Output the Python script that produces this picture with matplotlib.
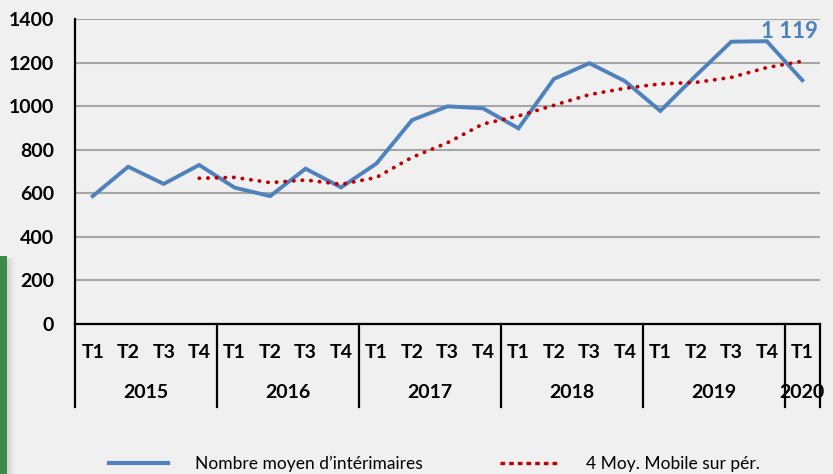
import matplotlib
matplotlib.use("Agg")
import matplotlib.pyplot as plt
from matplotlib.lines import Line2D
from matplotlib.patches import Rectangle

# Quarterly data, 2015 T1 -> 2020 T1
years = ["2015", "2016", "2017", "2018", "2019", "2020"]
quarters_per_year = [4, 4, 4, 4, 4, 1]
quarter_labels = ["T1", "T2", "T3", "T4"] * 5 + ["T1"]

interimaires = [587, 722, 643, 730, 626, 587, 713, 627, 737, 936, 999,
                990, 898, 1125, 1197, 1115, 978, 1140, 1296, 1298, 1119]
# 4-period moving average (starts at 2015 T4)
moy_mobile = [None, None, None, 669, 673, 649, 661, 641, 673, 765, 832,
              918, 955, 1004, 1053, 1082, 1102, 1109, 1132, 1177, 1206]

bg = "#f0f0f0"
blue = "#4f81bd"
red = "#c00000"
plt.rcParams["font.family"] = ["Lato", "DejaVu Sans"]

W, H = 833, 474
fig = plt.figure(figsize=(W / 100, H / 100), dpi=100, facecolor=bg)
ax = fig.add_axes([75 / W, (H - 324) / H, 745 / W, 305 / H], facecolor=bg)

x = list(range(len(interimaires)))
ax.plot(x, interimaires, color=blue, lw=2.8, solid_joinstyle="miter",
        label="Nombre moyen d\u2019intérimaires", zorder=3)
ma_x = [i for i, v in zip(x, moy_mobile) if v is not None]
ma_y = [v for v in moy_mobile if v is not None]
ax.plot(ma_x, ma_y, color=red, lw=2.7, linestyle=(0, (0.1, 2.2)),
        dash_capstyle="round", label="4 Moy. Mobile sur pér.", zorder=4)

# data label on last point
ax.annotate(f"{interimaires[-1]:,}".replace(",", " "), xy=(x[-1], interimaires[-1]),
            xytext=(-9, 35), textcoords="offset points", ha="center", va="center",
            color=blue, fontsize=16, fontweight="bold")

ax.set_xlim(-0.5, len(x) - 0.5)
ax.set_ylim(0, 1400)
ax.set_yticks(range(0, 1401, 200))
ax.tick_params(axis="y", length=0, pad=15, labelsize=14)
for t in ax.get_yticklabels():
    t.set_fontweight("bold")
ax.set_xticks([])
ax.grid(axis="y", color="#a6a6a6", lw=1.5)
ax.set_axisbelow(True)
for s in ["top", "right"]:
    ax.spines[s].set_visible(False)
ax.spines["left"].set_linewidth(1.6)
ax.spines["bottom"].set_linewidth(1.6)

# two-level category axis
tr = ax.get_xaxis_transform()
y_q = (324 - 352) / 305
y_y = (324 - 393) / 305
y_end = (324 - 407) / 305
for i, lab in enumerate(quarter_labels):
    ax.text(i, y_q, lab, transform=tr, ha="center", va="center",
            fontsize=14, fontweight="bold")
start = -0.5
for yr, n in zip(years, quarters_per_year):
    ax.plot([start, start], [0, y_end], transform=tr, color="black",
            lw=1.6, clip_on=False)
    ax.text(start + n / 2, y_y, yr, transform=tr, ha="center", va="center",
            fontsize=14, fontweight="bold")
    start += n
ax.plot([start, start], [0, y_end], transform=tr, color="black",
        lw=1.6, clip_on=False)

handles = [Line2D([], [], color=blue, lw=3),
           Line2D([], [], color=red, lw=2.4, linestyle=(0, (1.4, 1.2)),
                  dash_capstyle="butt")]
fig.legend(handles, ["Nombre moyen d\u2019intérimaires", "4 Moy. Mobile sur pér."],
           loc="center left", bbox_to_anchor=(93 / W, 10 / H), ncol=2, frameon=False,
           fontsize=12.5, handlelength=3.4, handletextpad=1.6, columnspacing=4.4)

# green band at the left edge with a soft shadow
for k, a in enumerate([0.18, 0.12, 0.07, 0.03]):
    fig.patches.append(Rectangle(((7 + 2 * k) / W, 0), 2 / W, 216 / H,
                                 transform=fig.transFigure, color="#606060",
                                 alpha=a, lw=0))
fig.patches.append(Rectangle((0, 0), 7 / W, 218 / H, transform=fig.transFigure,
                             color="#3d8b4c", lw=0))

fig.savefig("out.png", dpi=100, facecolor=bg)
